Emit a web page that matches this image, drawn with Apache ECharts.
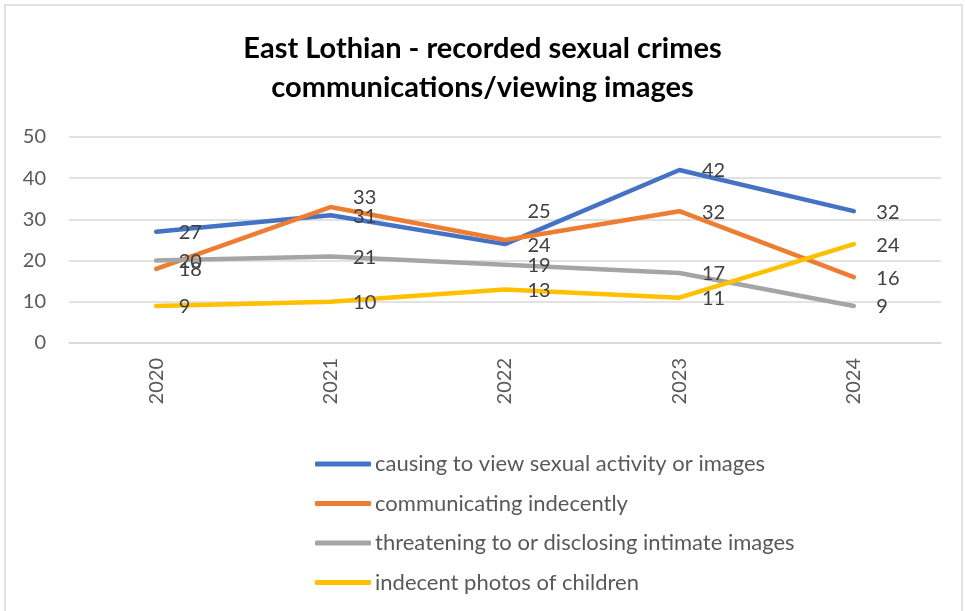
<!DOCTYPE html>
<html><head><meta charset="utf-8">
<script src="https://cdn.jsdelivr.net/npm/echarts@6/dist/echarts.min.js"></script>
<style>html,body{margin:0;padding:0;background:#fff}#c{width:965px;height:611px}</style>
</head><body><div id="c"></div>
<script>
const categories = ['2020','2021','2022','2023','2024'];
const causingToView = [27, 31, 24, 42, 32];
const communicating = [18, 33, 25, 32, 16];
const threatening = [20, 21, 19, 17, 9];
const indecentPhotos = [9, 10, 13, 11, 24];
const seriesNames = ['causing to view sexual activity or images','communicating indecently','threatening to or disclosing intimate images','indecent photos of children'];
const yTicks = [0, 10, 20, 30, 40, 50];

const FONT = 'Lato';
const colors = ['#4472C4','#ED7D31','#A5A5A5','#FFC000'];
const labelOffsets = {1: {1: [0,-9], 2: [0,-28]}};

function mk(i, vals){
  return {
    name: seriesNames[i], type: 'line', data: vals.map((v,j)=>{
      const o = labelOffsets[i] && labelOffsets[i][j];
      return o ? {value: v, label: {offset: o}} : v;
    }),
    symbol: 'circle', symbolSize: 1, showSymbol: true,
    lineStyle: {width: 4.5, color: colors[i], cap: 'round', join: 'round'},
    itemStyle: {color: colors[i]},
    label: {show: true, position: 'right', distance: 22, fontFamily: FONT, fontSize: 20, color: '#404040', offset: [0, 1]},
    emphasis: {disabled: true}, animation: false
  };
}
const ch = echarts.init(document.getElementById('c'));
ch.setOption({
  animation: false,
  color: colors,
  title: {text: 'East Lothian - recorded sexual crimes\ncommunications/viewing images', left: 'center', top: 29, padding: 0,
    textStyle: {fontFamily: FONT, fontSize: 29, fontWeight: 'bold', color: '#000', lineHeight: 39}},
  graphic: [{type: 'rect', shape: {x: 5, y: 5, width: 957, height: 620}, style: {fill: 'none', stroke: '#d9d9d9', lineWidth: 1.5}, silent: true}],
  grid: {left: 69, right: 24, top: 137, bottom: 268, containLabel: false},
  xAxis: {type: 'category', data: categories, boundaryGap: true,
    axisLine: {show: true, lineStyle: {color: '#d9d9d9', width: 1.5}}, axisTick: {show: false},
    axisLabel: {rotate: 90, margin: 15, fontFamily: FONT, fontSize: 20, color: '#595959'}},
  yAxis: {type: 'value', min: yTicks[0], max: yTicks[yTicks.length-1], interval: 10,
    axisLine: {show: false}, axisTick: {show: false},
    splitLine: {lineStyle: {color: '#d9d9d9', width: 1.5}},
    axisLabel: {margin: 23, fontFamily: FONT, fontSize: 20, color: '#595959'}},
  legend: {orient: 'vertical', left: 315, top: 453, padding: 0, icon: 'roundRect', itemWidth: 56, itemHeight: 5, itemGap: 17.5,
    textStyle: {fontFamily: FONT, fontSize: 22, color: '#595959', lineHeight: 20, padding: [0,0,0,-1]},
    data: seriesNames},
  series: [mk(0, causingToView), mk(1, communicating), mk(2, threatening), mk(3, indecentPhotos)]
});
</script></body></html>
